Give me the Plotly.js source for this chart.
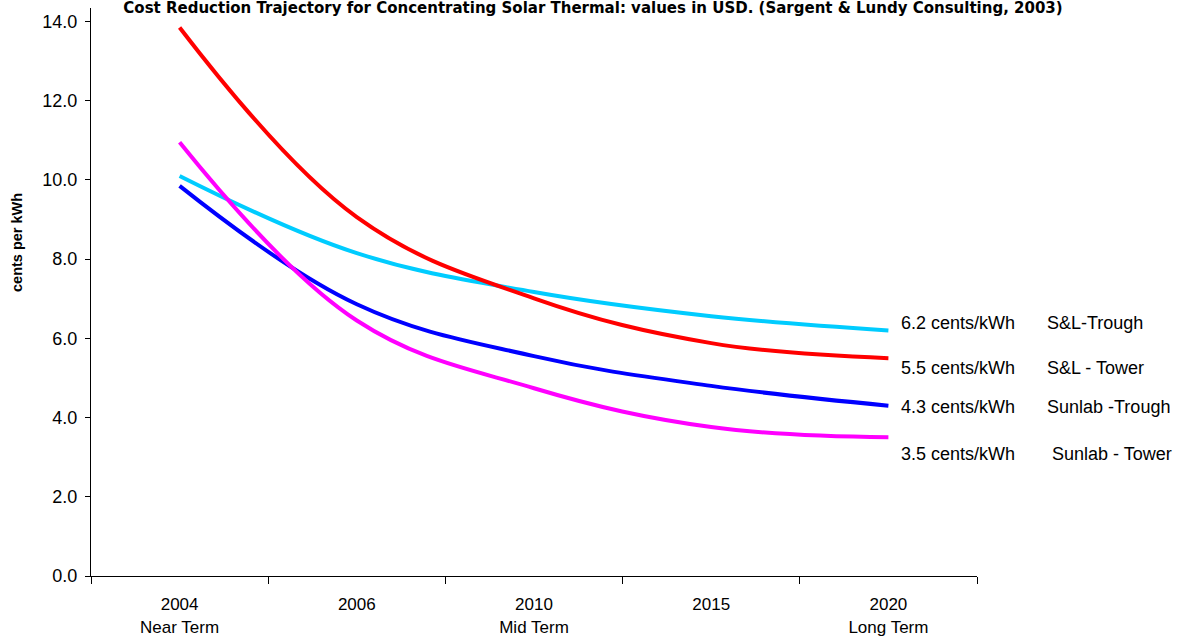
<!DOCTYPE html>
<html>
<head>
<meta charset="utf-8">
<script src="https://cdn.plot.ly/plotly-3.0.1.min.js"></script>
<style>
  html, body { margin: 0; padding: 0; background: #fff; overflow: hidden; }
  #chart { width: 1186px; height: 637px; }
</style>
</head>
<body>
<div id="chart"></div>
<script>
// Levelised cost of electricity, cents per kWh
const years = ['2004', '2006', '2010', '2015', '2020'];
const yearLabels = ['2004<br>Near Term', '2006', '2010<br>Mid Term', '2015', '2020<br>Long Term'];

const slTrough     = [10.1, 8.15, 7.17, 6.56, 6.2];
const slTower      = [13.85, 9.06, 7.01, 5.88, 5.5];
const sunlabTrough = [9.85, 6.86, 5.55, 4.80, 4.3];
const sunlabTower  = [10.95, 6.45, 4.74, 3.76, 3.5];

const seriesNames = ['S&L-Trough', 'S&L - Tower', 'Sunlab -Trough', ' Sunlab - Tower'];
const endLabels = ['6.2 cents/kWh', '5.5 cents/kWh', '4.3 cents/kWh', '3.5 cents/kWh'];

// plot box in page pixels
const W = 1186, H = 637;
const M = { l: 91, r: 209, t: 8, b: 61 };
const PW = W - M.l - M.r, PH = H - M.t - M.b;
const px2paper = (px, py) => ({ x: (px - M.l) / PW, y: 1 - (py - M.t) / PH });

const baseFont = 'Liberation Sans, Arial, sans-serif';

function curve(values, color) {
  return {
    type: 'scatter', mode: 'lines', x: years, y: values,
    line: { color: color, width: 4, shape: 'spline', smoothing: 1.1 },
    hoverinfo: 'skip', showlegend: false
  };
}

const data = [
  curve(slTrough, '#00CCFF'),
  curve(slTower, '#FF0000'),
  curve(sunlabTrough, '#0000FF'),
  curve(sunlabTower, '#FF00FF')
];

// end-of-line value and name labels (left edges and centre rows in px)
const labelRows = [323, 368, 407, 454];
const annotations = [];
labelRows.forEach((row, i) => {
  const a = px2paper(899, row);
  annotations.push({ xref: 'paper', yref: 'paper', x: a.x, y: a.y, xanchor: 'left', yanchor: 'middle',
    text: endLabels[i], showarrow: false, font: { family: baseFont, size: 18, color: '#000' } });
  const b = px2paper(1045, row);
  annotations.push({ xref: 'paper', yref: 'paper', x: b.x, y: b.y, xanchor: 'left', yanchor: 'middle',
    text: seriesNames[i].replace(/^ /, '&nbsp;'), showarrow: false, font: { family: baseFont, size: 18, color: '#000' } });
});
const yt = px2paper(17, 243);
annotations.push({ xref: 'paper', yref: 'paper', x: yt.x, y: yt.y, xanchor: 'center', yanchor: 'middle',
  text: '<b>cents per kWh</b>', textangle: -90, showarrow: false, font: { family: baseFont, size: 14.5, color: '#000' } });

const layout = {
  width: W, height: H,
  margin: M,
  paper_bgcolor: '#fff', plot_bgcolor: '#fff',
  title: {
    text: '<b>Cost Reduction Trajectory for Concentrating Solar Thermal: values in USD. (Sargent & Lundy Consulting, 2003)</b>',
    font: { family: 'DejaVu Sans, Verdana, sans-serif', size: 15, color: '#000' },
    x: 0.5, xref: 'container', xanchor: 'center',
    y: 1 - 2 / H, yref: 'container', yanchor: 'top'
  },
  xaxis: {
    type: 'category', range: [-0.5, 4.5],
    tickmode: 'array', tickvals: years, ticktext: yearLabels,
    tickson: 'boundaries', ticks: 'outside', ticklen: 7, tickcolor: '#000', tickwidth: 1,
    ticklabelstandoff: 13,
    showline: true, linecolor: '#000', linewidth: 1,
    showgrid: false, zeroline: false,
    tickfont: { family: baseFont, size: 17, color: '#000' }
  },
  yaxis: {
    range: [0, 14.34], tickmode: 'linear', tick0: 0, dtick: 2, tickformat: '.1f',
    ticks: 'outside', ticklen: 5, tickcolor: '#000', tickwidth: 1,
    ticklabelstandoff: 4,
    showline: true, linecolor: '#000', linewidth: 1,
    showgrid: false, zeroline: false,
    tickfont: { family: baseFont, size: 18, color: '#000' }
  },
  annotations: annotations
};

Plotly.newPlot('chart', data, layout, { displayModeBar: false, staticPlot: true });
</script>
</body>
</html>
